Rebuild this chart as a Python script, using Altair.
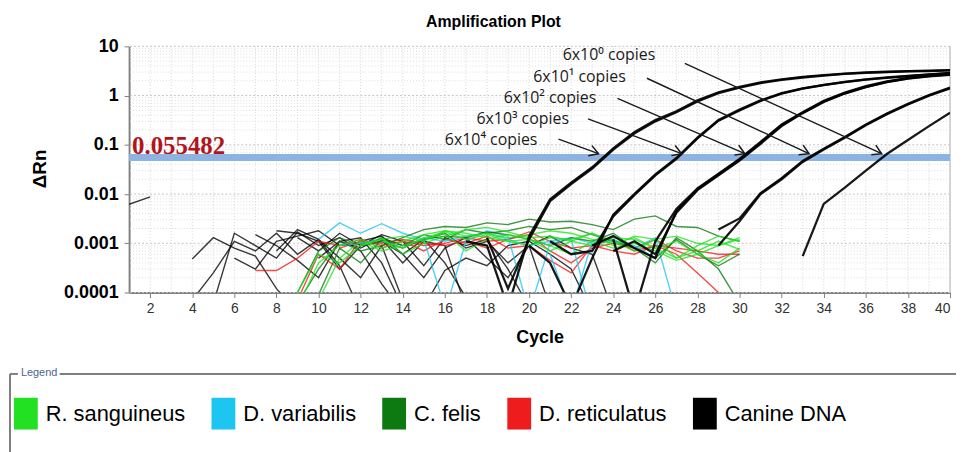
import math
import altair as alt
import pandas as pd

# ---------------- data ----------------
SPECIES = ["R. sanguineus", "D. variabilis", "C. felis", "D. reticulatus", "Canine DNA"]
COLORS = ["#22e022", "#1cc6f0", "#0c7a10", "#ee1c1c", "#000000"]

threshold = 0.055482

# background / non-amplifying traces: (first cycle, delta Rn per cycle)
r_sanguineus = [
    (9, [0.00005, 0.0004, 0.0009, 0.0012, 0.0008, 0.0011, 0.0015, 0.0018, 0.0016, 0.0013, 0.0011,
         0.0012, 0.0009, 0.0006, 0.0011, 0.0008, 0.001, 0.0007, 0.00045, 0.0006, 0.0009, 0.0012]),
    (9, [0.0001, 0.0006, 0.0004, 0.0009, 0.0013, 0.0006, 0.001, 0.0014, 0.0019, 0.0021, 0.0017,
         0.0013, 0.0014, 0.0011, 0.0009, 0.0013, 0.0012, 0.0008, 0.0011, 0.0006, 0.0004, 0.0008]),
    (10, [0.00007, 0.0005, 0.0011, 0.0007, 0.0009, 0.0012, 0.0016, 0.0007, 0.0012, 0.0015, 0.0012,
          0.0007, 0.0011, 0.0016, 0.0009, 0.0014, 0.0012, 0.0005, 0.0009, 0.0014, 0.0011]),
    (12, [0.0009, 0.0012, 0.0014, 0.0011, 0.0018, 0.0014, 0.0016, 0.0013, 0.0015, 0.0018, 0.0016,
          0.0012, 0.001, 0.0013, 0.0008, 0.0005, 0.0007, 0.0011, 0.00075]),
    (13, [0.0011, 0.0008, 0.0013, 0.0017, 0.0012, 0.0015, 0.0011, 0.0009, 0.0013, 0.0012, 0.0016,
          0.0011, 0.0007, 0.0012, 0.0014, 0.001, 0.0009, 0.0013]),
]
d_variabilis = [
    (10, [0.0012, 0.0026, 0.0016, 0.0025, 0.0016, 0.0012, 0.00005]),
    (16, [0.00004, 0.0011, 0.0018, 0.0014, 0.00004, 0.001, 0.0012, 0.00003]),
    (21, [0.0006, 0.00004, 0.0011, 0.0012, 0.0008, 0.0013, 0.00004]),
    (11, [0.0009, 0.001, 0.0012, 0.0008, 0.0013, 0.0011, 0.0014, 0.0016, 0.0012, 0.0009, 0.0011,
          0.0013, 0.001, 0.0011, 0.0009, 0.0005]),
]
c_felis = [
    (9, [0.00006, 0.0003, 0.0011, 0.0007, 0.0009, 0.0013, 0.0019, 0.0022, 0.0021, 0.0026, 0.0024,
         0.0031, 0.0027, 0.0028, 0.0024, 0.0019, 0.0031, 0.0036, 0.0022, 0.0021, 0.0014, 0.0011]),
    (10, [0.00009, 0.0008, 0.0004, 0.0012, 0.0009, 0.0015, 0.0012, 0.0019, 0.0016, 0.0018, 0.0022,
          0.0019, 0.0021, 0.0015, 0.0011, 0.0008, 0.0005, 0.0012, 0.0006, 0.00035, 0.0006]),
    (9, [0.0001, 0.0007, 0.0013, 0.0009, 0.0011, 0.0008, 0.0012, 0.0014, 0.0013, 0.0017, 0.0015,
         0.0012, 0.0009, 0.0013, 0.0011, 0.0016, 0.0008, 0.0004, 0.0013, 0.0007, 0.0003, 0.00006]),
]
d_reticulatus = [
    (7, [0.00028, 0.00028, 0.0005, 0.0011, 0.0009, 0.0012, 0.0008, 0.0011, 0.0009, 0.001, 0.0013,
         0.0011, 0.0012, 0.0017, 0.0011, 0.0008, 0.0009, 0.0007, 0.0006, 0.0009, 0.0008, 0.0007,
         0.0006, 0.0006]),
    (9, [0.00007, 0.0006, 0.0003, 0.0012, 0.0009, 0.0011, 0.0007, 0.0012, 0.001, 0.0014, 0.0008,
         0.0009, 0.00045, 0.00025, 0.0009, 0.0012, 0.0007, 0.0009, 0.0006, 0.00025, 0.0001, 0.00005]),
    (11, [0.0008, 0.0011, 0.001, 0.0012, 0.001, 0.0009, 0.0011, 0.0008, 0.0012, 0.0015, 0.0007,
          0.0004, 0.0008, 0.001, 0.0008, 0.0012, 0.0007, 0.0005, 0.0005, 0.0007]),
]
canine_noise = [
    (1, [0.0062, 0.0088]),
    (4, [0.00048, 0.0013, 0.0008, 0.00055, 0.00012, 0.00004]),
    (4, [0.00007, 0.00025, 0.0011, 0.0007, 0.0016, 0.0006, 0.0012, 0.00035, 0.00004]),
    (5, [0.00006, 0.0016, 0.0009, 0.0005, 0.0017, 0.0009, 0.0013, 0.0007, 0.00015, 0.00004]),
    (6, [0.0005, 0.0003, 0.0011, 0.0014, 0.0018, 0.0009, 0.001, 0.0012, 0.0004, 0.0011, 0.0009, 0.00005]),
    (7, [0.0015, 0.0009, 0.00045, 0.0002, 0.0011, 0.0013, 0.0004, 0.00005]),
    (8, [0.0018, 0.0016, 0.0011, 0.0003, 0.0009, 0.0015, 0.0011, 0.00035, 0.0013, 0.0009, 0.0012,
         0.0003, 0.00005]),
    (8, [0.0007, 0.0019, 0.0012, 0.0005, 0.0002, 0.0009, 0.00007]),
    (9, [0.0013, 0.0007, 0.0016, 0.0009, 0.0011, 0.0006, 0.0002, 0.0008, 0.0013, 0.0005, 0.0002,
         0.0009, 0.00005]),
    (10, [0.0005, 0.0011, 0.0008, 0.0013, 0.0009, 0.0012, 0.0004, 0.00008]),
    (15, [0.00005, 0.00028, 0.0005, 0.00035, 0.0009, 0.0011, 0.0006, 0.0003, 0.00004]),
    (12, [0.0011, 0.0014, 0.0006, 0.0012, 0.0016, 0.0008, 0.0011, 0.0004, 0.0009, 0.0014, 0.0008,
          0.0006, 0.00004]),
]
# amplifying canine DNA dilutions (replicates)
canine_amp = [
    (17, [0.0011, 0.0009, 0.00005, 0.0014, 0.0078, 0.017, 0.035, 0.085, 0.18, 0.32, 0.48, 0.8, 1.17,
          1.5, 1.86, 2.14, 2.4, 2.6, 2.8, 2.95, 3.05, 3.15, 3.2, 3.3]),
    (18, [0.0013, 0.00012, 0.0012, 0.0072, 0.016, 0.033, 0.08, 0.17, 0.3, 0.46, 0.76, 1.12, 1.45,
          1.8, 2.08, 2.33, 2.55, 2.75, 2.9, 3.0, 3.1, 3.15, 3.25]),
    (20, [0.0009, 0.0004, 0.00005, 0.0005, 0.0038, 0.01, 0.025, 0.054, 0.14, 0.32, 0.52, 0.8, 1.12,
          1.4, 1.66, 1.9, 2.14, 2.35, 2.5, 2.7, 2.9]),
    (21, [0.0011, 0.0006, 0.0007, 0.0035, 0.0095, 0.024, 0.052, 0.135, 0.31, 0.5, 0.78, 1.1, 1.38,
          1.64, 1.88, 2.1, 2.3, 2.48, 2.68, 2.85]),
    (23, [0.0009, 0.0014, 0.0008, 0.0005, 0.0045, 0.0126, 0.025, 0.05, 0.11, 0.25, 0.45, 0.76, 1.12,
          1.5, 1.9, 2.24, 2.5, 2.7]),
    (24, [0.0012, 0.00004, 0.0011, 0.005, 0.013, 0.026, 0.052, 0.115, 0.26, 0.46, 0.78, 1.15, 1.55,
          1.95, 2.3, 2.55, 2.75]),
    (24, [0.0007, 0.0011, 0.0006, 0.0042, 0.012, 0.024, 0.048, 0.105, 0.24, 0.44, 0.74, 1.1, 1.48,
          1.88, 2.2, 2.45, 2.65]),
    (29, [0.0009, 0.0028, 0.01, 0.02, 0.045, 0.08, 0.14, 0.25, 0.42, 0.66, 1.0, 1.4]),
    (29, [0.0019, 0.0032, 0.0105, 0.021, 0.047, 0.083, 0.145, 0.26, 0.43, 0.68, 1.02, 1.45]),
    (33, [0.00055, 0.0063, 0.0135, 0.03, 0.065, 0.125, 0.24, 0.45]),
]

# annotations
annot_labels = ["6x10⁰ copies", "6x10¹ copies", "6x10² copies", "6x10³ copies", "6x10⁴ copies"]
annot_ct = [36.75, 33.3, 30.25, 27.25, 23.3]
annot_text_cycle = [21.6, 20.2, 18.8, 17.5, 16.0]
annot_text_value = [6.6, 2.37, 0.9, 0.337, 0.127]
arrow_start_cycle = [27.4, 25.6, 24.2, 22.8, 21.4]
arrow_start_value = [4.5, 2.25, 0.88, 0.337, 0.13]
arrow_tip_value = 0.066

x_ticks = list(range(2, 41, 2))
y_ticks = [0.0001, 0.001, 0.01, 0.1, 1, 10]

# ---------------- layout ----------------
W, H = 827, 248
X0, Y0 = 130, 45  # plot origin on the page
FONT = "Liberation Sans"


def px(c):
    return (c - 1) / 39 * W


def py(v):
    return (1 - math.log10(v)) / 5 * H


def traces(groups):
    rows = []
    for species, series in groups:
        for k, (start, vals) in enumerate(series):
            for i, v in enumerate(vals):
                rows.append({"series": f"{species}-{k}", "species": species,
                             "cycle": start + i, "value": v})
    return pd.DataFrame(rows)


noise_df = traces([("Canine DNA", canine_noise), ("D. reticulatus", d_reticulatus),
                   ("D. variabilis", d_variabilis), ("C. felis", c_felis),
                   ("R. sanguineus", r_sanguineus)])
amp_df = traces([("Canine DNA", canine_amp)])

x_axis = alt.Axis(values=x_ticks, grid=False, labelFont=FONT, labelFontSize=14, labelColor="#333333",
                  labelPadding=4, tickSize=5, tickColor="#808080", domainColor="#808080",
                  domainWidth=2, titleFont=FONT, titleFontSize=18, titleFontWeight="bold",
                  titleColor="black", titleY=50, titleBaseline="alphabetic")
y_axis = alt.Axis(values=y_ticks, format="~g", grid=False, labelFont=FONT, labelFontSize=18,
                  labelFontWeight="bold", labelColor="black", labelPadding=6, tickSize=5,
                  tickColor="#808080", domainColor="#808080", domainWidth=2, titleFont=FONT,
                  titleFontSize=19, titleFontWeight="bold", titleColor="black", titleX=-90,
                  titleY=123, titleAngle=270, titleAlign="center", titleBaseline="middle")

X_SCALE = alt.Scale(domain=[1, 40], nice=False, zero=False)
Y_SCALE = alt.Scale(type="log", domain=[0.0001, 10], nice=False)


def X(field="cycle"):
    return alt.X(f"{field}:Q", scale=X_SCALE, axis=x_axis, title="Cycle")


def Y(field="value"):
    return alt.Y(f"{field}:Q", scale=Y_SCALE, axis=y_axis, title="ΔRn")


COLOR_SCALE = alt.Scale(domain=SPECIES, range=COLORS)
RECT = "M-0.75,-1L0.75,-1L0.75,1L-0.75,1Z"
LEGEND = alt.Legend(
    title=None, orient="none", legendX=-120, legendY=354, direction="horizontal", columns=5,
    columnPadding=22, labelFont=FONT, labelFontSize=22,
    labelColor="black", labelOffset=4, labelLimit=400, symbolType=RECT, symbolSize=1024,
    symbolStrokeWidth=0, symbolOpacity=1, padding=0)


def COLOR():
    return alt.Color("species:N", scale=COLOR_SCALE, sort=SPECIES, legend=LEGEND)


# legend carrier (drawn off-canvas; only its legend is seen) -- first so its legend encoding wins
legend_layer = alt.Chart(pd.DataFrame({"species": SPECIES})).mark_point(
    shape=RECT, filled=True, size=1024, opacity=1, clip=True).encode(
    x=alt.value(-2000), y=alt.value(-2000), color=COLOR())

# grid
minor = [m * 10 ** e for e in range(-4, 1) for m in range(2, 10)]
grid_minor = alt.Chart(pd.DataFrame({"value": minor})).mark_rule(
    color="#dedede", strokeDash=[1, 2], strokeWidth=1).encode(y=Y())
grid_major = alt.Chart(pd.DataFrame({"value": y_ticks})).mark_rule(
    color="#c4c4c4", strokeDash=[2, 2], strokeWidth=1).encode(y=Y())
grid_v = alt.Chart(pd.DataFrame({"cycle": list(range(2, 41))})).mark_rule(
    color="#d6d6d6", strokeDash=[1, 2], strokeWidth=1).encode(x=X())
right_border = alt.Chart(pd.DataFrame({"cycle": [40]})).mark_rule(
    color="#c8c8c8", strokeWidth=1.5).encode(x=X())

noise = alt.Chart(noise_df).mark_line(strokeWidth=1.4, opacity=0.78, clip=True).encode(
    x=X(), y=Y(), detail="series:N", color=COLOR())

thr = alt.Chart(pd.DataFrame({"value": [threshold]})).mark_rule(
    color="#8db3e2", strokeWidth=7).encode(y=Y())

amp = alt.Chart(amp_df).mark_line(strokeWidth=2.3, opacity=0.9, clip=True).encode(
    x=X(), y=Y(), detail="series:N", color=COLOR())

# annotations
ann_rows = []
for lab, ct, tc, tv, sc, sv in zip(annot_labels, annot_ct, annot_text_cycle, annot_text_value,
                                    arrow_start_cycle, arrow_start_value):
    ang = math.degrees(math.atan2(py(arrow_tip_value) - py(sv), px(ct) - px(sc))) % 360
    ann_rows.append({"label": lab, "tcycle": tc, "tvalue": tv, "cycle": sc, "value": sv,
                     "cycle_end": ct, "value_end": arrow_tip_value, "angle": ang})
ann_df = pd.DataFrame(ann_rows)

arrows = alt.Chart(ann_df).mark_rule(color="#1a1a1a", strokeWidth=1.4).encode(
    x=X(), y=Y(), x2="cycle_end:Q", y2="value_end:Q")
heads = alt.Chart(ann_df).mark_point(
    shape="M-1,-0.6L0,0L-1,0.6", filled=False, size=324, strokeWidth=1.5, color="#1a1a1a",
    opacity=1).encode(x=X("cycle_end"), y=Y("value_end"),
                      angle=alt.Angle("angle:Q", scale=None))
ann_text = alt.Chart(ann_df).mark_text(
    align="left", baseline="middle", font="Open Sans", fontSize=16, color="#1a1a1a").encode(
    x=X("tcycle"), y=Y("tvalue"), text="label:N")

thr_label = alt.Chart(pd.DataFrame({"value": [threshold], "label": [f"{threshold}"]})).mark_text(
    align="left", baseline="alphabetic", dy=-3, font="Liberation Serif", fontWeight="bold",
    fontSize=25, color="#b3131b").encode(x=alt.value(3), y=Y(), text="label:N")

one = pd.DataFrame({"k": [0]})
title = alt.Chart(one).mark_text(
    text="Amplification Plot", font=FONT, fontSize=16, fontWeight="bold", color="black",
    align="center", baseline="alphabetic").encode(x=alt.value(497 - X0), y=alt.value(26 - Y0))

frame_col = "#7f7f7f"
frame = [
    alt.Chart(one).mark_rule(color=frame_col, strokeWidth=2).encode(
        x=alt.value(10 - X0), x2=alt.value(18 - X0), y=alt.value(375 - Y0)),
    alt.Chart(one).mark_rule(color=frame_col, strokeWidth=2).encode(
        x=alt.value(60 - X0), x2=alt.value(964 - X0), y=alt.value(375 - Y0)),
    alt.Chart(one).mark_rule(color=frame_col, strokeWidth=2).encode(
        x=alt.value(10 - X0), y=alt.value(375 - Y0), y2=alt.value(460 - Y0)),
    alt.Chart(one).mark_text(text="Legend", font=FONT, fontSize=11, color="#4a6490",
                             align="left", baseline="middle").encode(
        x=alt.value(21 - X0), y=alt.value(374 - Y0)),
]

chart = alt.layer(
    legend_layer, grid_minor, grid_major, grid_v, right_border, noise, thr, amp, arrows, heads,
    ann_text, thr_label, title, *frame
).properties(
    width=W, height=H,
    autosize=alt.AutoSizeParams(type="none"),
    padding={"left": 122, "top": 37, "right": 6, "bottom": 159},
    background="white",
).configure_view(stroke=None)

chart.save("out.html", embed_options={"renderer": "svg", "actions": False})
